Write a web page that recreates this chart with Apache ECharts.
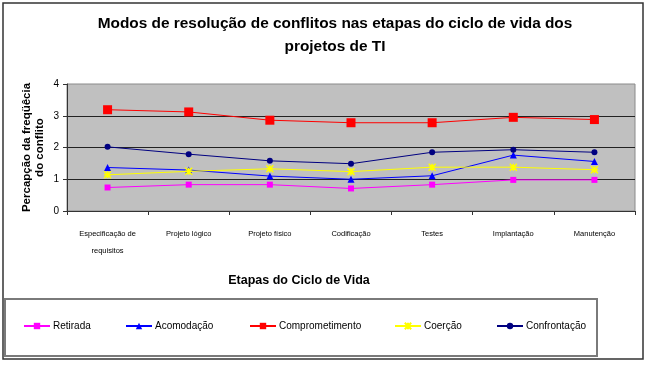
<!DOCTYPE html>
<html>
<head>
<meta charset="utf-8">
<script src="https://cdn.jsdelivr.net/npm/echarts@6/dist/echarts.min.js"></script>
<style>html,body{margin:0;padding:0;background:#fff}#c{width:650px;height:365px}</style>
</head>
<body>
<div id="c"></div>
<script>
var categories = ['Especificação de\nrequisitos', 'Projeto lógico', 'Projeto físico', 'Codificação', 'Testes', 'Implantação', 'Manutenção'];
var retirada = [0.74, 0.83, 0.83, 0.71, 0.83, 0.98, 0.98];
var acomodacao = [1.37, 1.29, 1.10, 1.00, 1.11, 1.76, 1.56];
var comprometimento = [3.19, 3.12, 2.86, 2.78, 2.78, 2.95, 2.88];
var coercao = [1.14, 1.25, 1.33, 1.24, 1.38, 1.38, 1.30];
var confrontacao = [2.02, 1.79, 1.58, 1.49, 1.85, 1.93, 1.85];
var yTicks = [0, 1, 2, 3, 4];

var FONT = '"Liberation Sans", Arial, sans-serif';
var chart = echarts.init(document.getElementById('c'), null, {renderer: 'canvas'});

var names = ['Retirada', 'Acomodação', 'Comprometimento', 'Coerção', 'Confrontação'];
var legendLefts = [18, 120, 244, 389, 491];
var legends = names.map(function (n, i) {
  return {
    data: [n], left: legendLefts[i], top: 316, itemWidth: 26, itemHeight: 8, itemGap: 0,
    textStyle: {fontFamily: FONT, fontSize: 10, color: '#000', padding: [0, 0, 0, -2]},
    selectedMode: false
  };
});

var asterisk = 'path://M0,0L10,10M10,0L0,10M5,0L5,10M0,5L10,5';

chart.setOption({
  animation: false,
  backgroundColor: '#fff',
  title: [{
    text: 'Modos de resolução de conflitos nas etapas do ciclo de vida dos\nprojetos de TI',
    left: 330, top: 7, textAlign: 'center',
    textStyle: {fontFamily: FONT, fontSize: 15.4, fontWeight: 'bold', color: '#000', lineHeight: 23}
  }, {
    text: 'Etapas do Ciclo de Vida',
    left: 294, top: 269, textAlign: 'center',
    textStyle: {fontFamily: FONT, fontSize: 12.5, fontWeight: 'bold', color: '#000'}
  }],
  legend: legends,
  grid: {left: 67, right: 15, top: 84, bottom: 154, show: true, backgroundColor: '#C0C0C0', borderColor: '#8a8a8a', borderWidth: 1},
  xAxis: {
    type: 'category', data: categories, boundaryGap: true,
    axisLine: {lineStyle: {color: '#333', width: 1}},
    axisTick: {show: true, length: 4, lineStyle: {color: '#333'}},
    axisLabel: {interval: 0, margin: 14, fontFamily: FONT, fontSize: 7.5, color: '#000', lineHeight: 17}
  },
  yAxis: {
    type: 'value', min: yTicks[0], max: yTicks[yTicks.length - 1], interval: 1,
    name: 'Percapção da freqüêcia\ndo conflito', nameLocation: 'middle', nameGap: 21, nameRotate: 90,
    nameMoveOverlap: false,
    nameTextStyle: {fontFamily: FONT, fontSize: 11.5, fontWeight: 'bold', color: '#000', lineHeight: 13},
    axisLine: {show: true, lineStyle: {color: '#333', width: 1}},
    axisTick: {show: true, length: 4, lineStyle: {color: '#333'}},
    axisLabel: {margin: 8, fontFamily: FONT, fontSize: 10, color: '#000'},
    splitLine: {show: true, showMinLine: false, showMaxLine: false, lineStyle: {color: '#222', width: 1.2}}
  },
  series: [
    {name: 'Retirada', type: 'line', data: retirada, symbol: 'rect', symbolSize: 6,
      itemStyle: {color: '#FF00FF'}, lineStyle: {color: '#FF00FF', width: 1}},
    {name: 'Acomodação', type: 'line', data: acomodacao, symbol: 'triangle', symbolSize: 7,
      itemStyle: {color: '#0000FF'}, lineStyle: {color: '#0000FF', width: 1}},
    {name: 'Comprometimento', type: 'line', data: comprometimento, symbol: 'rect', symbolSize: 9,
      itemStyle: {color: '#FF0000'}, lineStyle: {color: '#FF0000', width: 1}},
    {name: 'Coerção', type: 'line', data: coercao, symbol: asterisk, symbolSize: 7,
      itemStyle: {color: '#FFFF00', borderColor: '#FFFF00', borderWidth: 1.5}, lineStyle: {color: '#FFFF00', width: 1}},
    {name: 'Confrontação', type: 'line', data: confrontacao, symbol: 'circle', symbolSize: 6,
      itemStyle: {color: '#000080'}, lineStyle: {color: '#000080', width: 1}}
  ],
  graphic: [
    {type: 'rect', shape: {x: 3, y: 3, width: 640, height: 356}, style: {fill: null, stroke: '#333', lineWidth: 1.5}, silent: true, z: -1},
    {type: 'rect', shape: {x: 5, y: 299, width: 592, height: 57}, style: {fill: null, stroke: '#7a7a7a', lineWidth: 2}, silent: true, z: -1}
  ]
});
</script>
</body>
</html>
